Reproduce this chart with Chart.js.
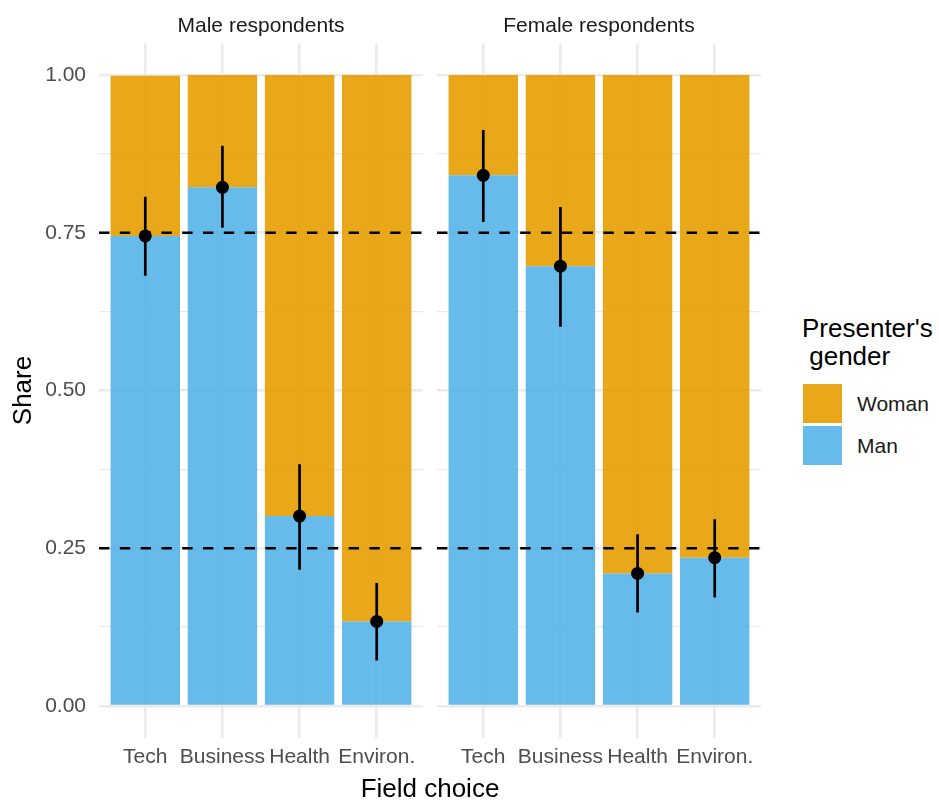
<!DOCTYPE html>
<html>
<head>
<meta charset="utf-8">
<script src="https://cdn.jsdelivr.net/npm/chart.js@4/dist/chart.umd.min.js"></script>
<style>
  html, body { margin: 0; padding: 0; background: #ffffff; }
  #wrap { position: relative; width: 939px; height: 802px; overflow: hidden; background: #ffffff;
          font-family: "Liberation Sans", Arial, sans-serif; }
  canvas { position: absolute; top: 0; }
  .txt { position: absolute; white-space: pre; }
  .strip { font-size: 21px; line-height: 21px; color: #1a1a1a; text-align: center; }
  .key { position: absolute; width: 39px; height: 39px; }
</style>
</head>
<body>
<div id="wrap">
  <canvas id="maleChart" width="430" height="802" style="left:0px;width:430px;height:802px"></canvas>
  <canvas id="femaleChart" width="339" height="802" style="left:430px;width:339px;height:802px"></canvas>

  <div class="txt strip" style="left:99px;width:324px;top:14px">Male respondents</div>
  <div class="txt strip" style="left:437px;width:324px;top:14px">Female respondents</div>
  <div class="txt" style="left:0px;width:860px;top:775px;font-size:26px;line-height:26px;color:#000;text-align:center">Field choice</div>

  <div class="txt" style="left:802px;top:314px;font-size:26px;line-height:28px;color:#000">Presenter's
 gender</div>
  <div class="key" id="keyWoman" style="left:803px;top:384px"></div>
  <div class="key" id="keyMan" style="left:803px;top:426px"></div>
  <div class="txt" style="left:857px;top:393px;font-size:21px;line-height:21px;color:#1a1a1a">Woman</div>
  <div class="txt" style="left:857px;top:435px;font-size:21px;line-height:21px;color:#1a1a1a">Man</div>
</div>

<script>
// Field categories shown along each panel's x axis
const categories = ["Tech", "Business", "Health", "Environ."];

// Share of presenters by gender, male respondents
const maleMan   = [0.745, 0.822, 0.301, 0.134];
const maleWoman = [0.254, 0.178, 0.699, 0.866];
// Share of presenters by gender, female respondents
const femaleMan   = [0.841, 0.697, 0.210, 0.235];
const femaleWoman = [0.159, 0.303, 0.790, 0.765];

// Interval around the share of men (lower / upper)
const maleLower   = [0.682, 0.758, 0.216, 0.072];
const maleUpper   = [0.807, 0.888, 0.383, 0.195];
const femaleLower = [0.767, 0.601, 0.148, 0.172];
const femaleUpper = [0.913, 0.791, 0.272, 0.296];

// Dashed reference levels
const refLines = [0.25, 0.75];

// y axis ticks: labelled major ticks and unlabelled minor ticks
const yMajorTicks = [0, 0.25, 0.5, 0.75, 1];
const yMinorTicks = [0.125, 0.375, 0.625, 0.875];

const WOMAN_COLOR = "rgba(230,159,0,0.9)";
const MAN_COLOR = "rgba(86,180,233,0.9)";
const GRID = "#ebebeb";

document.getElementById("keyWoman").style.background = WOMAN_COLOR;
document.getElementById("keyMan").style.background = MAN_COLOR;

Chart.defaults.font.family = '"Liberation Sans", Arial, sans-serif';
Chart.defaults.animation = false;

// Draws the dashed reference lines and the vertical intervals just before the points
const panelMarks = {
  id: "panelMarks",
  beforeDatasetDraw(chart, args, opts) {
    if (args.meta.type !== "scatter") return;
    const { ctx, chartArea, scales } = chart;
    const x = scales.x, y = scales.y;
    ctx.save();
    ctx.beginPath();
    ctx.rect(chartArea.left, chartArea.top, chartArea.right - chartArea.left, chartArea.bottom - chartArea.top);
    ctx.clip();
    ctx.strokeStyle = "#000";
    ctx.lineWidth = 2.6;
    ctx.setLineDash([10.4, 10.4]);
    ctx.lineDashOffset = 0;
    opts.refs.forEach(v => {
      const py = y.getPixelForValue(v);
      ctx.beginPath();
      ctx.moveTo(chartArea.left, py);
      ctx.lineTo(chartArea.right, py);
      ctx.stroke();
    });
    ctx.setLineDash([]);
    ctx.lineWidth = 2.7;
    opts.lower.forEach((lo, i) => {
      const px = x.getPixelForValue(i);
      ctx.beginPath();
      ctx.moveTo(px, y.getPixelForValue(lo));
      ctx.lineTo(px, y.getPixelForValue(opts.upper[i]));
      ctx.stroke();
    });
    ctx.restore();
  }
};

function makePanel(canvasId, man, woman, lower, upper, showY) {
  const toXY = arr => arr.map((v, i) => ({ x: i, y: v }));
  return new Chart(document.getElementById(canvasId), {
    type: "bar",
    data: {
      datasets: [
        { type: "scatter", label: "point", data: toXY(man), order: 0, stack: "points",
          backgroundColor: "#000", borderWidth: 0, pointRadius: 6.5, pointHoverRadius: 6.5 },
        { label: "Man", data: toXY(man), order: 1, backgroundColor: MAN_COLOR, borderWidth: 0,
          barPercentage: 0.9, categoryPercentage: 1.0 },
        { label: "Woman", data: toXY(woman), order: 1, backgroundColor: WOMAN_COLOR, borderWidth: 0,
          barPercentage: 0.9, categoryPercentage: 1.0 }
      ]
    },
    options: {
      responsive: false,
      maintainAspectRatio: false,
      events: [],
      layout: { padding: showY ? { top: 43.5, right: 7, bottom: 0, left: 0 }
                               : { top: 43.5, right: 8, bottom: 0, left: 7 } },
      plugins: {
        legend: { display: false },
        tooltip: { enabled: false },
        panelMarks: { refs: refLines, lower: lower, upper: upper }
      },
      scales: {
        x: {
          type: "linear",
          stacked: true,
          min: -0.6,
          max: 3.6,
          offset: false,
          afterBuildTicks: s => { s.ticks = categories.map((c, i) => ({ value: i })); },
          afterFit: s => { s.height = 64.5; },
          ticks: {
            autoSkip: false, maxRotation: 0, minRotation: 0, padding: 7,
            color: "#4d4d4d", font: { size: 21 },
            callback: v => categories[v]
          },
          grid: { color: GRID, lineWidth: 2.6, drawTicks: false, offset: false },
          border: { display: false }
        },
        y: {
          type: "linear",
          stacked: true,
          min: -0.05,
          max: 1.05,
          afterBuildTicks: s => {
            s.ticks = yMajorTicks.concat(yMinorTicks).sort((a, b) => a - b).map(v => ({ value: v }));
          },
          afterFit: s => { s.width = showY ? 99 : 0; },
          ticks: {
            display: showY, padding: 13, color: "#4d4d4d", font: { size: 21 },
            callback: v => yMajorTicks.includes(v) ? v.toFixed(2) : ""
          },
          grid: {
            color: GRID, drawTicks: false,
            lineWidth: c => (c.tick && yMajorTicks.includes(c.tick.value)) ? 2.6 : 1.3
          },
          border: { display: false },
          title: {
            display: showY, text: "Share", color: "#000",
            font: { size: 26 }, padding: { top: 8, bottom: 0 }
          }
        }
      }
    },
    plugins: [panelMarks]
  });
}

makePanel("maleChart", maleMan, maleWoman, maleLower, maleUpper, true);
makePanel("femaleChart", femaleMan, femaleWoman, femaleLower, femaleUpper, false);
</script>
</body>
</html>
